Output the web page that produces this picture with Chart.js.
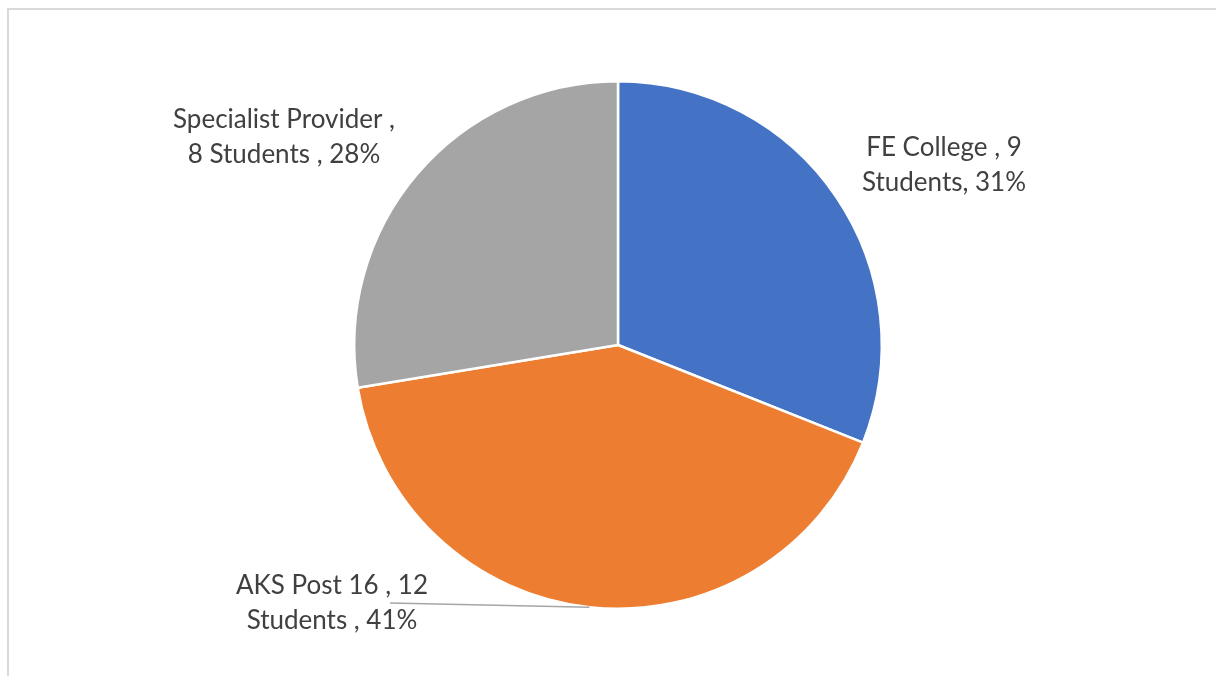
<!DOCTYPE html>
<html>
<head>
<meta charset="utf-8">
<script src="https://cdn.jsdelivr.net/npm/chart.js@4"></script>
<style>
  html, body { margin: 0; padding: 0; background: #fff; }
  #wrap { position: relative; width: 1216px; height: 676px; }
  #frame { position: absolute; left: 7px; top: 8px; width: 1220px; height: 680px;
           border-left: 2px solid #d9d9d9; border-top: 2px solid #d9d9d9; }
</style>
</head>
<body>
<div id="wrap">
  <div id="frame"></div>
  <canvas id="Migrafica" width="1216" height="676"></canvas>
</div>
<script>
var categorias = ['FE College', 'AKS Post 16', 'Specialist Provider'];
var alumnos = [9, 12, 8];
var etiquetas = [
    ['FE College , 9', 'Students, 31%'],
    ['AKS Post 16 , 12', 'Students , 41%'],
    ['Specialist Provider ,', '8 Students , 28%']
];
var colores = ['#4472c4', '#ed7d31', '#a5a5a5'];

// where each label sits relative to the pie centre
var desplaz = [[326, -180], [-286, 258], [-334, -208]];

var etiquetasPlugin = {
    id: 'etiquetas',
    afterDatasetsDraw(chart) {
        const ctx = chart.ctx;
        const arcs = chart.getDatasetMeta(0).data;
        ctx.save();
        ctx.font = '26px Lato, "Open Sans", sans-serif';
        ctx.fillStyle = '#404040';
        ctx.textAlign = 'center';
        ctx.textBaseline = 'middle';
        arcs.forEach((arc, i) => {
            const cx = arc.x + desplaz[i][0];
            const cy = arc.y + desplaz[i][1];
            if (i === 1) {
                // leader line to the middle of the slice edge
                const mid = (arc.startAngle + arc.endAngle) / 2;
                const ex = arc.x + Math.cos(mid) * arc.outerRadius;
                const ey = arc.y + Math.sin(mid) * arc.outerRadius;
                ctx.strokeStyle = '#a6a6a6';
                ctx.lineWidth = 1.5;
                ctx.beginPath();
                ctx.moveTo(cx + 58, cy);
                ctx.lineTo(ex, ey);
                ctx.stroke();
            }
            ctx.fillText(etiquetas[i][0], cx, cy - 17.5);
            ctx.fillText(etiquetas[i][1], cx, cy + 17.5);
        });
        ctx.restore();
    }
};

var ctx = document.getElementById('Migrafica').getContext('2d');
var myChart = new Chart(ctx, {
    type: 'pie',
    data: {
        labels: categorias,
        datasets: [{
            data: alumnos,
            backgroundColor: colores,
            borderColor: '#ffffff',
            borderWidth: 2.5
        }]
    },
    options: {
        responsive: false,
        animation: false,
        layout: { padding: { left: 353, right: 333, top: 80, bottom: 66 } },
        plugins: {
            legend: { display: false },
            tooltip: { enabled: false }
        }
    },
    plugins: [etiquetasPlugin]
});
</script>
</body>
</html>
